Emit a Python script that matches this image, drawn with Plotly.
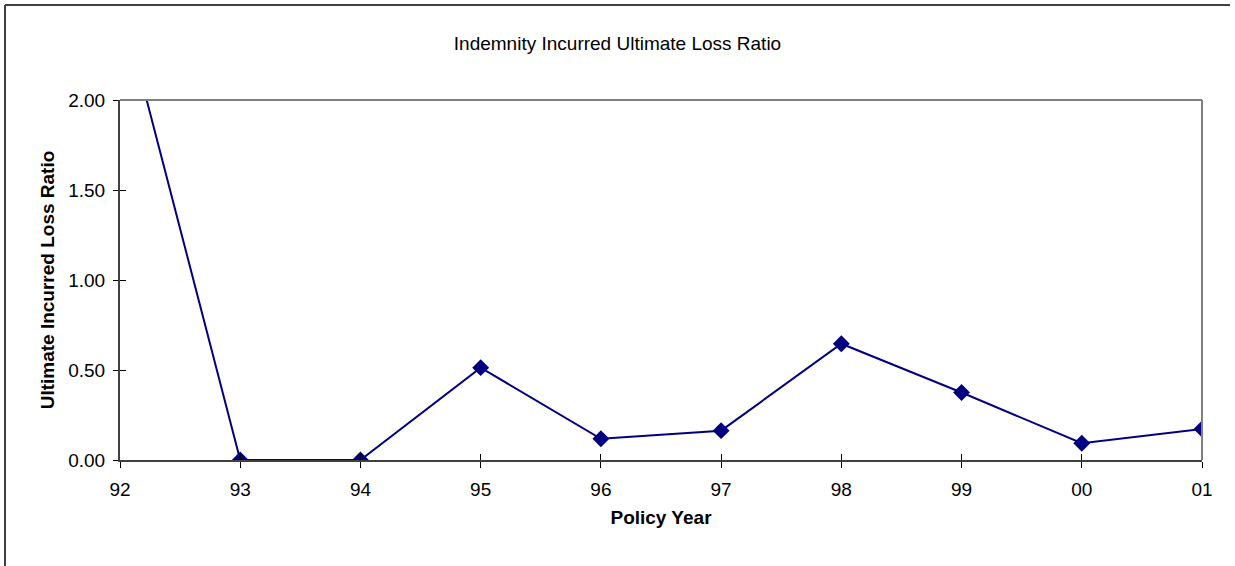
import plotly.graph_objects as go

# Policy years and their ultimate incurred loss ratios
policy_years = ["92", "93", "94", "95", "96", "97", "98", "99", "00", "01"]
loss_ratio = [2.57, 0.0, 0.0, 0.513, 0.118, 0.163, 0.646, 0.375, 0.093, 0.172]
y_ticks = [0.0, 0.5, 1.0, 1.5, 2.0]

W, H = 1235, 566
ML, MR, MT, MB = 120, 33, 100, 106
PW, PH = W - ML - MR, H - MT - MB

x_idx = list(range(len(policy_years)))
FS = 19
font = dict(family="Arial, Liberation Sans, sans-serif", size=FS, color="#000000")

fig = go.Figure()
fig.add_trace(go.Scatter(
    x=x_idx, y=loss_ratio, mode="lines+markers",
    line=dict(color="#000080", width=2),
    marker=dict(symbol="diamond", size=13, color="#000080"),
    showlegend=False, hoverinfo="skip",
))
# invisible trace carrying the overlay axes that draw the inner halves of the ticks
fig.add_trace(go.Scatter(x=x_idx, y=loss_ratio, xaxis="x2", yaxis="y2",
                         mode="markers", marker=dict(opacity=0),
                         showlegend=False, hoverinfo="skip"))

def px_x(p):
    return (p - ML) / PW

def px_y(p):
    return (H - MB - p) / PH

shapes = [
    # gray frame on top and right of plot area
    dict(type="line", xref="paper", yref="paper", x0=0, x1=1, y0=1, y1=1,
         line=dict(color="#808080", width=2)),
    dict(type="line", xref="paper", yref="paper", x0=1, x1=1, y0=0, y1=1,
         line=dict(color="#808080", width=2)),
    # chart border
    dict(type="line", xref="paper", yref="paper", x0=px_x(5), x1=px_x(1230),
         y0=px_y(5), y1=px_y(5), line=dict(color="#404040", width=2)),
    dict(type="line", xref="paper", yref="paper", x0=px_x(5), x1=px_x(5),
         y0=px_y(5), y1=px_y(H + 5), line=dict(color="#404040", width=2)),
]

fig.update_layout(
    width=W, height=H,
    margin=dict(l=ML, r=MR, t=MT, b=MB),
    paper_bgcolor="white", plot_bgcolor="white",
    font=font,
    title=dict(text="Indemnity Incurred Ultimate Loss Ratio", x=0.5, xanchor="center",
               xref="container", y=1 - 43 / H, yanchor="middle",
               font=dict(size=FS)),
    xaxis=dict(range=[0, 9], tickvals=x_idx, ticktext=policy_years,
               showgrid=False, zeroline=False, showline=True,
               linecolor="#404040", linewidth=2,
               ticks="outside", ticklen=6, tickcolor="#000000", tickwidth=1,
               tickfont=dict(size=FS), ticklabelstandoff=5,
               title=dict(text="<b>Policy Year</b>", font=dict(size=FS), standoff=12)),
    xaxis2=dict(range=[0, 9], tickvals=x_idx, overlaying="x", side="bottom",
                anchor="y", showticklabels=False, showgrid=False, zeroline=False,
                ticks="inside", ticklen=6, tickcolor="#000000", tickwidth=1),
    yaxis=dict(range=[0, 2], tickvals=y_ticks, tickformat=".2f",
               showgrid=False, zeroline=False, showline=True,
               linecolor="#404040", linewidth=2,
               ticks="outside", ticklen=5, tickcolor="#000000", tickwidth=1,
               tickfont=dict(size=FS), ticklabelstandoff=4,
               title=dict(text="<b>Ultimate Incurred Loss Ratio</b>",
                          font=dict(size=FS), standoff=9)),
    yaxis2=dict(range=[0, 2], tickvals=y_ticks, overlaying="y", side="left",
                anchor="x", showticklabels=False, showgrid=False, zeroline=False,
                ticks="inside", ticklen=6, tickcolor="#000000", tickwidth=1),
    shapes=shapes,
)

fig.write_html("out.html")
